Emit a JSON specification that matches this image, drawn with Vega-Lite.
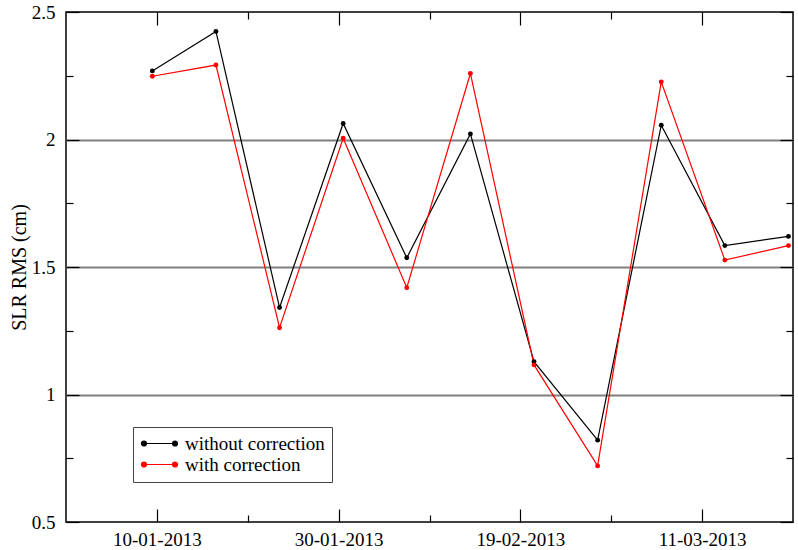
{
  "$schema": "https://vega.github.io/schema/vega-lite/v6.json",
  "width": 727,
  "height": 510,
  "autosize": {"type": "none"},
  "padding": {"left": 66, "top": 12, "right": 5, "bottom": 28},
  "background": "white",
  "config": {
    "view": {"stroke": "black", "strokeWidth": 1.5},
    "font": "Liberation Serif, DejaVu Serif, serif",
    "axis": {
      "labelFont": "Liberation Serif, DejaVu Serif, serif",
      "labelFontSize": 19,
      "labelColor": "black",
      "titleFont": "Liberation Serif, DejaVu Serif, serif",
      "titleColor": "black",
      "tickColor": "black",
      "tickWidth": 1.2,
      "domain": false
    }
  },
  "data": {
    "values": [
      {"date": "2013-01-09T12:00:00Z", "series": "without correction", "value": 2.269},
      {"date": "2013-01-16T12:00:00Z", "series": "without correction", "value": 2.424},
      {"date": "2013-01-23T12:00:00Z", "series": "without correction", "value": 1.341},
      {"date": "2013-01-30T12:00:00Z", "series": "without correction", "value": 2.063},
      {"date": "2013-02-06T12:00:00Z", "series": "without correction", "value": 1.536},
      {"date": "2013-02-13T12:00:00Z", "series": "without correction", "value": 2.022},
      {"date": "2013-02-20T12:00:00Z", "series": "without correction", "value": 1.129},
      {"date": "2013-02-27T12:00:00Z", "series": "without correction", "value": 0.821},
      {"date": "2013-03-06T12:00:00Z", "series": "without correction", "value": 2.056},
      {"date": "2013-03-13T12:00:00Z", "series": "without correction", "value": 1.584},
      {"date": "2013-03-20T12:00:00Z", "series": "without correction", "value": 1.620},
      {"date": "2013-01-09T12:00:00Z", "series": "with correction", "value": 2.248},
      {"date": "2013-01-16T12:00:00Z", "series": "with correction", "value": 2.292},
      {"date": "2013-01-23T12:00:00Z", "series": "with correction", "value": 1.262},
      {"date": "2013-01-30T12:00:00Z", "series": "with correction", "value": 2.005},
      {"date": "2013-02-06T12:00:00Z", "series": "with correction", "value": 1.419},
      {"date": "2013-02-13T12:00:00Z", "series": "with correction", "value": 2.259},
      {"date": "2013-02-20T12:00:00Z", "series": "with correction", "value": 1.116},
      {"date": "2013-02-27T12:00:00Z", "series": "with correction", "value": 0.720},
      {"date": "2013-03-06T12:00:00Z", "series": "with correction", "value": 2.226},
      {"date": "2013-03-13T12:00:00Z", "series": "with correction", "value": 1.527},
      {"date": "2013-03-20T12:00:00Z", "series": "with correction", "value": 1.584}
    ]
  },
  "layer": [
    {
      "encoding": {
        "x": {
          "field": "date",
          "type": "temporal",
          "scale": {
            "type": "utc",
            "nice": false,
            "domain": [
              {"year": 2012, "month": 12, "date": 31, "utc": true},
              {"year": 2013, "month": 3, "date": 21, "utc": true}
            ]
          },
          "axis": {
            "orient": "bottom",
            "title": null,
            "grid": false,
            "values": [
              {"year": 2013, "month": 1, "date": 10, "utc": true},
              {"year": 2013, "month": 1, "date": 20, "utc": true},
              {"year": 2013, "month": 1, "date": 30, "utc": true},
              {"year": 2013, "month": 2, "date": 9, "utc": true},
              {"year": 2013, "month": 2, "date": 19, "utc": true},
              {"year": 2013, "month": 3, "date": 1, "utc": true},
              {"year": 2013, "month": 3, "date": 11, "utc": true}
            ],
            "labelExpr": "indexof([20, 9, 1], utcdate(datum.value)) >= 0 ? '' : utcFormat(datum.value, '%d-%m-%Y')",
            "tickSize": {"condition": {"test": "indexof([20, 9, 1], utcdate(datum.value)) >= 0", "value": -7}, "value": -13},
            "labelPadding": 21,
            "labelFlush": false,
            "labelOverlap": false
          }
        },
        "y": {
          "field": "value",
          "type": "quantitative",
          "scale": {"domain": [0.5, 2.5], "nice": false, "zero": false},
          "axis": {
            "orient": "left",
            "title": "SLR RMS (cm)",
            "titleFontSize": 20,
            "titleFontWeight": "normal",
            "titlePadding": 2,
            "values": [0.5, 0.75, 1, 1.25, 1.5, 1.75, 2, 2.25, 2.5],
            "labelExpr": "(datum.value * 4) % 2 == 1 ? '' : format(datum.value, '~g')",
            "tickSize": {"condition": {"test": "(datum.value * 4) % 2 == 1", "value": -7}, "value": -13},
            "labelPadding": 24,
            "labelFlush": false,
            "labelOverlap": false,
            "grid": true,
            "gridColor": "#7f7f7f",
            "gridWidth": 2,
            "gridOpacity": {"condition": {"test": "datum.value == 1 || datum.value == 1.5 || datum.value == 2", "value": 1}, "value": 0}
          }
        },
        "color": {
          "field": "series",
          "type": "nominal",
          "scale": {"domain": ["without correction", "with correction"], "range": ["black", "#ff0000"]},
          "legend": {
            "orient": "none",
            "legendX": 67,
            "legendY": 415,
            "title": null,
            "fillColor": "white",
            "strokeColor": "#444444",
            "padding": 7,
            "rowPadding": 1,
            "symbolSize": 100,
            "symbolType": "M-3.1,0L3.1,0M-3.6,0a0.5,0.5 0 1,0 1,0a0.5,0.5 0 1,0 -1,0M2.6,0a0.5,0.5 0 1,0 1,0a0.5,0.5 0 1,0 -1,0",
            "symbolStrokeWidth": 1.2,
            "symbolOffset": 10,
            "labelOffset": 16,
            "labelFont": "Liberation Serif, DejaVu Serif, serif",
            "labelFontSize": 19,
            "labelColor": "black",
            "encode": {
              "symbols": {
                "update": {
                  "fill": {"scale": "color", "field": "value"},
                  "stroke": {"scale": "color", "field": "value"}
                }
              }
            }
          }
        }
      },
      "layer": [
        {"mark": {"type": "line", "strokeWidth": 1.2}},
        {"mark": {"type": "point", "filled": true, "size": 24, "opacity": 1}}
      ]
    },
    {
      "mark": {"type": "point", "opacity": 0},
      "encoding": {
        "x": {
          "field": "date",
          "type": "temporal",
          "axis": {
            "orient": "top",
            "title": null,
            "grid": false,
            "labels": false,
            "values": [
              {"year": 2013, "month": 1, "date": 10, "utc": true},
              {"year": 2013, "month": 1, "date": 20, "utc": true},
              {"year": 2013, "month": 1, "date": 30, "utc": true},
              {"year": 2013, "month": 2, "date": 9, "utc": true},
              {"year": 2013, "month": 2, "date": 19, "utc": true},
              {"year": 2013, "month": 3, "date": 1, "utc": true},
              {"year": 2013, "month": 3, "date": 11, "utc": true}
            ],
            "tickSize": {"condition": {"test": "indexof([20, 9, 1], utcdate(datum.value)) >= 0", "value": -7}, "value": -13}
          }
        },
        "y": {
          "field": "value",
          "type": "quantitative",
          "axis": {
            "orient": "right",
            "title": null,
            "grid": false,
            "labels": false,
            "values": [0.5, 0.75, 1, 1.25, 1.5, 1.75, 2, 2.25, 2.5],
            "tickSize": {"condition": {"test": "(datum.value * 4) % 2 == 1", "value": -7}, "value": -13}
          }
        }
      }
    }
  ],
  "resolve": {"axis": {"x": "independent", "y": "independent"}}
}
